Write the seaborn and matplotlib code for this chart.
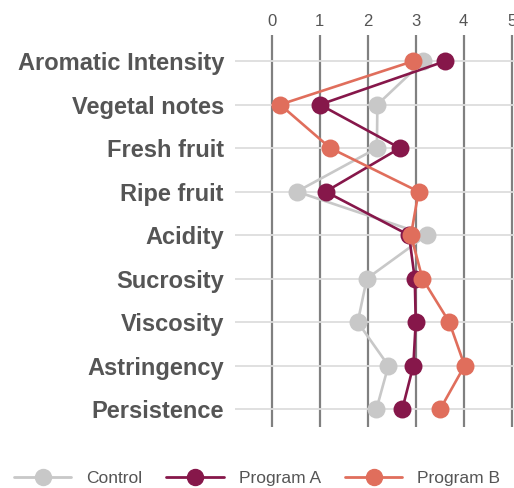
import matplotlib
matplotlib.use("Agg")
import matplotlib.pyplot as plt
import seaborn as sns
import pandas as pd
from matplotlib.lines import Line2D

attributes = ["Aromatic Intensity", "Vegetal notes", "Fresh fruit", "Ripe fruit",
              "Acidity", "Sucrosity", "Viscosity", "Astringency", "Persistence"]
control = [3.16, 2.2, 2.19, 0.52, 3.23, 1.98, 1.79, 2.43, 2.18]
program_a = [3.62, 1.0, 2.67, 1.12, 2.86, 2.98, 3.0, 2.95, 2.72]
program_b = [2.95, 0.17, 1.22, 3.06, 2.9, 3.14, 3.7, 4.02, 3.51]
series_names = ["Control", "Program A", "Program B"]
colors = ["#c8c8c8", "#86174a", "#e06e5c"]
x_ticks = [0, 1, 2, 3, 4, 5]

rows = []
for name, vals in zip(series_names, [control, program_a, program_b]):
    for a, v in zip(attributes, vals):
        rows.append({"attribute": a, "value": v, "series": name})
df = pd.DataFrame(rows)

sns.set_style("white")
plt.rcParams["font.family"] = ["Liberation Sans", "DejaVu Sans"]

fig = plt.figure(figsize=(5.14, 4.88), dpi=100)
ax = fig.add_axes([235 / 514, 1 - 427 / 488, 1 - 235 / 514, (427 - 35) / 488])

palette = dict(zip(series_names, colors))
sns.pointplot(data=df, x="value", y="attribute", hue="series", order=attributes,
              hue_order=series_names, palette=palette, orient="h", errorbar=None,
              markers="o", markersize=11.5, linewidth=1.9, dodge=False, ax=ax,
              legend=False)

ax.set_xlim(-0.77, 5.05)
ax.set_ylim(8.41, -0.6)
ax.set_xticks(x_ticks)
ax.xaxis.tick_top()
ax.tick_params(axis="x", length=0, labelsize=12, labelcolor="#555555", pad=4)
ax.tick_params(axis="y", length=0, pad=8)
for lab in ax.get_yticklabels():
    lab.set_fontweight("bold")
    lab.set_fontsize(17)
    lab.set_color("#555555")
ax.set_xlabel("")
ax.set_ylabel("")
for s in ax.spines.values():
    s.set_visible(False)

for t in x_ticks:
    ax.axvline(t, color="#808080", lw=1.6, zorder=0)
for i in range(len(attributes)):
    ax.axhline(i, color="#dddddd", lw=1.3, zorder=0)

handles = [Line2D([0], [0], color=c, lw=2, marker="o", markersize=11.5) for c in colors]
fig.legend(handles, series_names, loc="center", bbox_to_anchor=(0.5, 1 - 478 / 488),
           ncol=3, frameon=False, fontsize=12.5, labelcolor="#555555",
           handlelength=3.3, columnspacing=1.4, handletextpad=0.85)

fig.savefig("out.png", dpi=100)
